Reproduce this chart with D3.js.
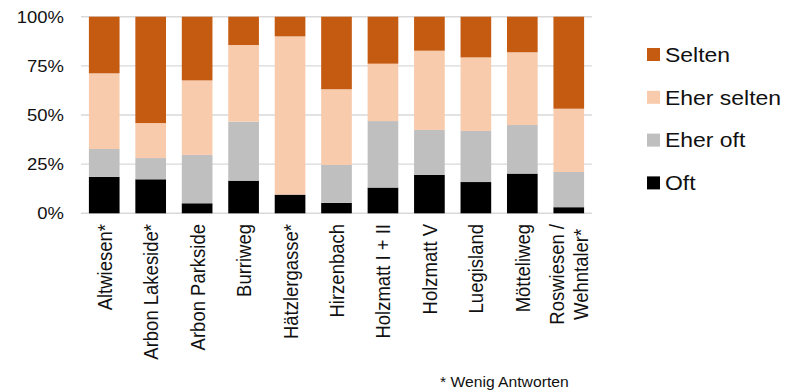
<!DOCTYPE html>
<html>
<head>
<meta charset="utf-8">
<script src="https://cdn.jsdelivr.net/npm/d3@7"></script>
<style>
  html, body { margin: 0; padding: 0; background: #fff; }
  svg { display: block; }
  text { font-family: "Liberation Sans", Arial, sans-serif; fill: #111; }
</style>
</head>
<body>
<svg id="chart" width="800" height="392"></svg>
<script>
// Sites surveyed (a line break splits a label over two lines)
const categories = [
  "Altwiesen*", "Arbon Lakeside*", "Arbon Parkside", "Burriweg", "Hätzlergasse*",
  "Hirzenbach", "Holzmatt I + II", "Holzmatt V", "Luegisland", "Mötteliweg",
  "Roswiesen /\nWehntaler*"
];

// Answer shares in percent, per site
const oft        = [18.5, 17.3,  5.1, 16.6,  9.5,  5.3, 13.1, 19.5, 15.9, 20.2,  3.1];
const eherOft    = [14.2, 10.8, 24.6, 30.0,  0.0, 19.3, 33.8, 22.9, 26.0, 24.7, 17.9];
const eherSelten = [38.5, 17.8, 37.9, 39.0, 80.5, 38.5, 29.2, 40.3, 37.4, 37.0, 32.2];
const selten     = [28.8, 54.1, 32.4, 14.4, 10.0, 36.9, 23.9, 17.3, 20.7, 18.1, 46.8];

const seriesNames = ["Oft", "Eher oft", "Eher selten", "Selten"];
const seriesValues = [oft, eherOft, eherSelten, selten];
const seriesColors = ["#000000", "#bfbfbf", "#f8cbad", "#c55a11"];

const yTicks = [0, 0.25, 0.5, 0.75, 1];
const footnote = "* Wenig Antworten";

// Whole drawing is slightly widened horizontally
const SX = 1.12;

const rows = categories.map((c, i) => {
  const r = { category: c };
  seriesNames.forEach((s, k) => { r[s] = seriesValues[k][i] / 100; });
  return r;
});

const svg = d3.select("#chart");
const g = svg.append("g").attr("transform", `scale(${SX},1)`);

const x = d3.scaleBand()
  .domain(categories)
  .range([81 / SX, 592 / SX])
  .paddingInner(0.34)
  .paddingOuter(0.17);

const y = d3.scaleLinear().domain([0, 1]).range([213.3, 16.7]);

const color = d3.scaleOrdinal().domain(seriesNames).range(seriesColors);

// Horizontal gridlines
g.append("g")
  .selectAll("line")
  .data(yTicks)
  .join("line")
  .attr("x1", 81 / SX)
  .attr("x2", 592 / SX)
  .attr("y1", d => y(d))
  .attr("y2", d => y(d))
  .attr("stroke", "#d9d9d9")
  .attr("stroke-width", 1.4);

// Y tick labels
g.append("g")
  .selectAll("text")
  .data(yTicks)
  .join("text")
  .attr("x", 64 / SX)
  .attr("y", d => y(d))
  .attr("dy", "0.36em")
  .attr("text-anchor", "end")
  .style("font-size", "16.5px")
  .text(d3.format(".0%"));

// Stacked bars
const stacked = d3.stack().keys(seriesNames)(rows);

g.append("g")
  .selectAll("g")
  .data(stacked)
  .join("g")
  .attr("fill", d => color(d.key))
  .selectAll("rect")
  .data(d => d)
  .join("rect")
  .attr("x", d => x(d.data.category))
  .attr("width", x.bandwidth())
  .attr("y", d => y(d[1]))
  .attr("height", d => Math.max(0, y(d[0]) - y(d[1])));

// Rotated category labels; lines centred on each other, block ends below the axis
const labelTop = 224;
const lineGap = 21;
const labels = g.append("g")
  .selectAll("g")
  .data(categories)
  .join("g")
  .attr("transform", d => `translate(${x(d) + x.bandwidth() / 2},${labelTop}) rotate(-90)`);

labels.each(function (d) {
  const lines = d.split("\n");
  const grp = d3.select(this);
  const texts = lines.map((ln, i) => grp.append("text")
    .attr("text-anchor", "end")
    .style("font-size", "18.5px")
    .attr("y", (i - (lines.length - 1) / 2) * lineGap)
    .attr("dy", "0.36em")
    .text(ln));
  const lens = texts.map(t => t.node().getComputedTextLength());
  const maxLen = d3.max(lens);
  texts.forEach((t, i) => t.attr("x", -(maxLen - lens[i]) / 2));
});

// Legend, top entry first
const legendOrder = seriesNames.slice().reverse();
const legend = g.append("g")
  .selectAll("g")
  .data(legendOrder)
  .join("g")
  .attr("transform", (d, i) => `translate(0,${54.5 + i * 42.8})`);

legend.append("rect")
  .attr("x", 647 / SX)
  .attr("y", -6.5)
  .attr("width", 13 / SX)
  .attr("height", 13)
  .attr("fill", d => color(d));

legend.append("text")
  .attr("x", 665 / SX)
  .attr("y", 7.3)
  .style("font-size", "20.5px")
  .text(d => d);

// Footnote
g.append("text")
  .attr("x", 440 / SX)
  .attr("y", 387)
  .style("font-size", "14px")
  .text(footnote);
</script>
</body>
</html>
